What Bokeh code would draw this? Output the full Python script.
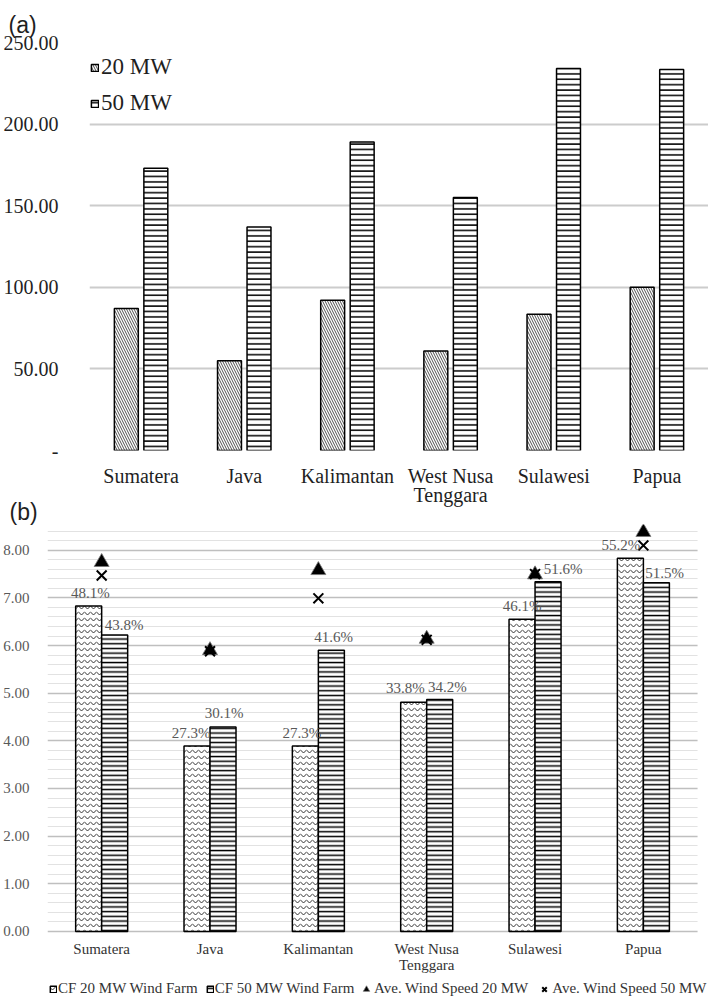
from bokeh.plotting import figure
from bokeh.models import ColumnDataSource, Range1d, FixedTicker, Legend, LegendItem, BoxAnnotation
from bokeh.embed import file_html
from bokeh.resources import INLINE
from bokeh.core.properties import value

# ---------------- data ----------------
regions = ["Sumatera", "Java", "Kalimantan", "West Nusa\nTenggara", "Sulawesi", "Papua"]

# chart (a)
cost_20mw = [87.0, 55.0, 92.0, 61.0, 83.5, 100.0]
cost_50mw = [173.0, 137.0, 189.0, 155.0, 234.0, 233.5]
a_ticks = [0, 50, 100, 150, 200, 250]
a_tick_labels = ["-", "50.00", "100.00", "150.00", "200.00", "250.00"]

# chart (b)
cf20_bar = [6.83, 3.89, 3.89, 4.81, 6.55, 7.83]
cf50_bar = [6.22, 4.29, 5.90, 4.87, 7.34, 7.32]
cf20_text = ["48.1%", "27.3%", "27.3%", "33.8%", "46.1%", "55.2%"]
cf50_text = ["43.8%", "30.1%", "41.6%", "34.2%", "51.6%", "51.5%"]
ws20 = [7.75, 5.90, 7.58, 6.14, 7.49, 8.38]
ws50 = [7.47, 5.88, 6.99, 6.12, 7.50, 8.10]
b_ticks = [0, 1, 2, 3, 4, 5, 6, 7, 8]
b_tick_labels = ["0.00", "1.00", "2.00", "3.00", "4.00", "5.00", "6.00", "7.00", "8.00"]

# data-label placement (layout only)
lbl20_dx = [0.016, -0.055, -0.033, -0.076, 0.0, -0.088]
lbl50_dx = [0.088, 0.01, 0.02, 0.07, 0.14, 0.076]
lbl20_dy = [0.28, 0.27, 0.27, 0.29, 0.27, 0.27]
lbl50_dy = [0.22, 0.29, 0.27, 0.25, 0.26, 0.21]

SERIF = "Liberation Serif"
SANS = "Liberation Sans"
n = len(regions)
centers = [i + 0.5 for i in range(n)]

# ---------------- chart (a) ----------------
pa = figure(width=708, height=511, x_range=Range1d(0, 6), y_range=Range1d(0, 250),
            output_backend="svg", toolbar_location=None,
            min_border_left=88, min_border_right=0, min_border_top=42, min_border_bottom=61)
pa.outline_line_color = None
pa.background_fill_color = "white"
pa.border_fill_color = "white"
pa.title.text = "(a)"
pa.title.text_font = SANS
pa.title.text_font_size = "23px"
pa.title.text_font_style = "normal"
pa.title.text_color = "#1f1f1f"
pa.title.align = "left"
pa.title.offset = -81
pa.title.standoff = 9

src_a = ColumnDataSource(dict(x20=[c - 0.143 for c in centers], x50=[c + 0.143 for c in centers],
                              v20=cost_20mw, v50=cost_50mw))
ra1 = pa.vbar(x="x20", top="v20", bottom=0, width=0.232, source=src_a,
              fill_color="white", line_color="black", line_width=1.5,
              hatch_pattern="left_diagonal_line", hatch_color="#222222", hatch_scale=5, hatch_weight=0.8)
ra2 = pa.vbar(x="x50", top="v50", bottom=0, width=0.232, source=src_a,
              fill_color="white", line_color="black", line_width=1.5,
              hatch_pattern="horizontal_line", hatch_color="black", hatch_scale=5.4, hatch_weight=1.5)

pa.xaxis.ticker = FixedTicker(ticks=centers)
pa.xaxis.major_label_overrides = {c: r for c, r in zip(centers, regions)}
pa.xaxis.axis_line_color = None
pa.xaxis.major_tick_line_color = None
pa.xaxis.minor_tick_line_color = None
pa.xaxis.major_label_standoff = 8
pa.xaxis.major_label_text_font = SERIF
pa.xaxis.major_label_text_font_size = "20px"
pa.xaxis.major_label_text_color = "#1f1f1f"
pa.xaxis.major_label_text_line_height = 0.9
pa.xgrid.grid_line_color = None

pa.yaxis.ticker = FixedTicker(ticks=a_ticks)
pa.yaxis.major_label_overrides = dict(zip(a_ticks, a_tick_labels))
pa.yaxis.axis_line_color = None
pa.yaxis.major_tick_line_color = None
pa.yaxis.minor_tick_line_color = None
pa.yaxis.major_label_standoff = 25
pa.yaxis.major_label_text_font = SERIF
pa.yaxis.major_label_text_font_size = "20px"
pa.yaxis.major_label_text_color = "#1f1f1f"
pa.ygrid.grid_line_color = "#cccccc"
pa.ygrid.grid_line_width = 2

leg_a = Legend(items=[LegendItem(label="20 MW", renderers=[ra1]),
                      LegendItem(label="50 MW", renderers=[ra2])],
               location=(1, 334), orientation="vertical",
               label_text_font=SERIF, label_text_font_size="23px", label_text_color="#1f1f1f",
               glyph_width=9, glyph_height=9, label_standoff=2, spacing=10, padding=0, margin=0,
               border_line_color=None, background_fill_alpha=0)
pa.add_layout(leg_a, "center")

# ---------------- chart (b) ----------------
# frame runs down to the bottom edge; category labels and legend sit below y=0
pb = figure(width=708, height=509, x_range=Range1d(0, 6.101), y_range=Range1d(-1.428, 8.54),
            output_backend="svg", toolbar_location=None,
            min_border_left=45, min_border_right=0, min_border_top=34, min_border_bottom=0)
pb.margin = (-21, 0, 0, 0)
pb.outline_line_color = None
pb.background_fill_color = "white"
pb.border_fill_color = None
pb.title.text = "(b)"
pb.title.text_font = SANS
pb.title.text_font_size = "23px"
pb.title.text_font_style = "normal"
pb.title.text_color = "#1f1f1f"
pb.title.align = "left"
pb.title.offset = -38
pb.title.standoff = 0

minor_b = [round(0.2 * k, 1) for k in range(43) if k % 5 != 0]
pb.ygrid.ticker = FixedTicker(ticks=b_ticks, minor_ticks=minor_b)
pb.ygrid.grid_line_color = "#bfbfbf"
pb.ygrid.grid_line_width = 1.5
pb.ygrid.minor_grid_line_color = "#e2e2e2"
pb.ygrid.minor_grid_line_width = 1
pb.xgrid.grid_line_color = None

src_b = ColumnDataSource(dict(x20=[c - 0.12 for c in centers], x50=[c + 0.12 for c in centers],
                              v20=cf20_bar, v50=cf50_bar))
rb1 = pb.vbar(x="x20", top="v20", bottom=0, width=0.24, source=src_b,
              fill_color="white", line_color="black", line_width=1.5,
              hatch_pattern="horizontal_wave", hatch_color="#333333", hatch_scale=6, hatch_weight=1)
rb2 = pb.vbar(x="x50", top="v50", bottom=0, width=0.24, source=src_b,
              fill_color="white", line_color="black", line_width=1.5,
              hatch_pattern="horizontal_line", hatch_color="black", hatch_scale=4.7, hatch_weight=1.5)

rb3 = pb.scatter(x=centers, y=ws20, marker="triangle", size=15,
                 fill_color="black", line_color="#777777", line_width=0.8)
rb4 = pb.scatter(x=centers, y=ws50, marker="x", size=14, line_color="black", line_width=2)

pb.text(x=[c - 0.12 + d for c, d in zip(centers, lbl20_dx)],
        y=[v + d for v, d in zip(cf20_bar, lbl20_dy)], text=cf20_text,
        text_font=value(SERIF), text_font_size="15px", text_color="#595959",
        text_align="center", text_baseline="middle")
pb.text(x=[c + 0.12 + d for c, d in zip(centers, lbl50_dx)],
        y=[v + d for v, d in zip(cf50_bar, lbl50_dy)], text=cf50_text,
        text_font=value(SERIF), text_font_size="15px", text_color="#595959",
        text_align="center", text_baseline="middle")

# category labels (drawn under the zero line)
pb.text(x=centers, y=[-0.19] * n, text=regions,
        text_font=value(SERIF), text_font_size="15px", text_color="#333333",
        text_align="center", text_baseline="top", text_line_height=1.05)

# gridlines stop at the end of the last category
pb.add_layout(BoxAnnotation(left=6, bottom=-0.05, fill_color="white", fill_alpha=1.0,
                            line_color=None))

pb.xaxis.visible = False
pb.yaxis.ticker = FixedTicker(ticks=b_ticks)
pb.yaxis.major_label_overrides = dict(zip(b_ticks, b_tick_labels))
pb.yaxis.axis_line_color = None
pb.yaxis.major_tick_line_color = None
pb.yaxis.minor_tick_line_color = None
pb.yaxis.major_label_standoff = 12
pb.yaxis.major_label_text_font = SERIF
pb.yaxis.major_label_text_font_size = "15px"
pb.yaxis.major_label_text_color = "#595959"

leg_style = dict(orientation="horizontal", label_text_font=SERIF, label_text_font_size="15px",
                 label_text_color="#333333", padding=0, margin=0,
                 border_line_color=None, background_fill_alpha=0)
leg_b1 = Legend(items=[LegendItem(label="CF 20 MW Wind Farm", renderers=[rb1]),
                       LegendItem(label="CF 50 MW Wind Farm", renderers=[rb2])],
                location=(2, 2), glyph_width=8, glyph_height=8, label_standoff=1, spacing=8,
                **leg_style)
leg_b2 = Legend(items=[LegendItem(label="Ave. Wind Speed 20 MW", renderers=[rb3]),
                       LegendItem(label="Ave. Wind Speed 50 MW", renderers=[rb4])],
                location=(311, 2), glyph_width=16, glyph_height=16, label_standoff=-1, spacing=8,
                **leg_style)
pb.add_layout(leg_b1, "center")
pb.add_layout(leg_b2, "center")

open("out.html", "w").write(file_html([pa, pb], INLINE))
